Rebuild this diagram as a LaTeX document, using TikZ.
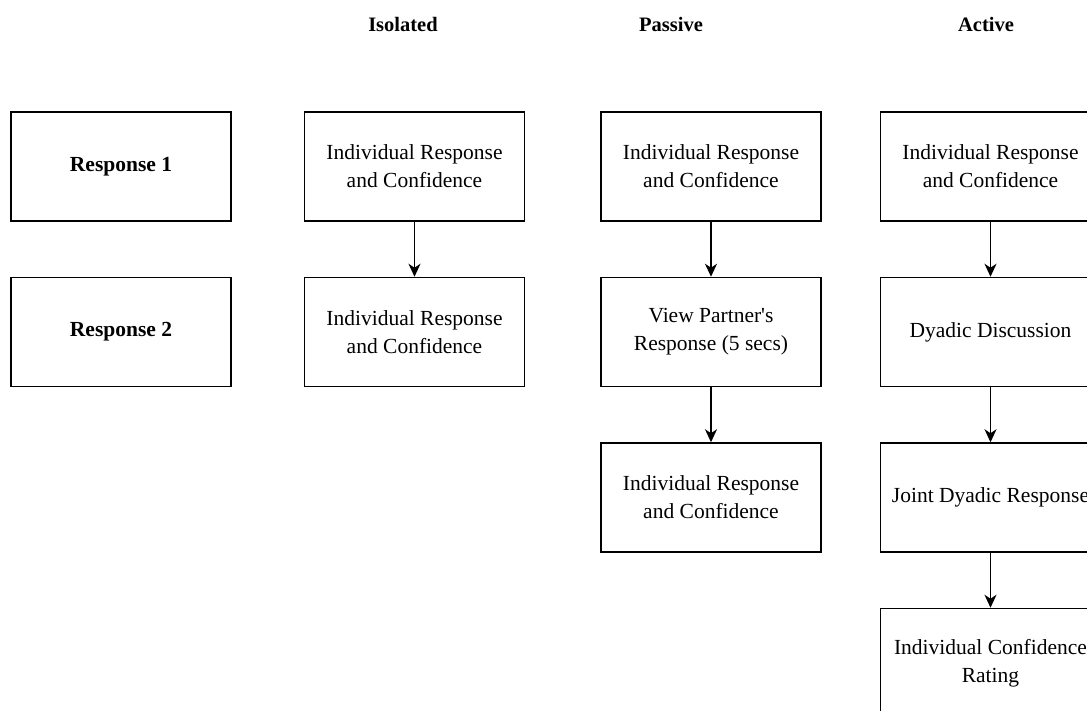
\documentclass[tikz,border=0pt]{standalone}
\usepackage{fontspec}
\setmainfont{Liberation Serif}[Ligatures=TeXOff]
\usetikzlibrary{arrows.meta,positioning}

\begin{document}
\begin{tikzpicture}[
  x=1pt, y=1pt,
  node distance=55pt and 72pt,
  box/.style={
    draw,
    line width=1.5pt,
    align=center,
    minimum width=220pt,
    minimum height=109pt,
    inner sep=0pt,
    font=\fontsize{21.5}{28}\selectfont
  },
  rowbox/.style={
    box,
    font=\fontsize{21.5}{28}\selectfont\bfseries
  },
  head/.style={
    font=\fontsize{20.5}{24}\selectfont\bfseries
  },
  arr/.style={
    -{Stealth[length=13pt,width=12pt,inset=4pt]},
    line width=1.5pt
  }
]

\clip (0,0) rectangle (1087,-711);

% Row labels
\node[rowbox] (resp1) at (121,-166.5) {Response 1};
\node[rowbox, below=of resp1] (resp2) {Response 2};

% Isolated condition
\node[box, right=72pt of resp1] (iso1)
  {Individual Response\\and Confidence};
\node[box, below=of iso1] (iso2)
  {Individual Response\\and Confidence};

% Passive condition
\node[box, right=75pt of iso1] (pas1)
  {Individual Response\\and Confidence};
\node[box, below=of pas1] (pas2)
  {View Partner's\\Response (5 secs)};
\node[box, below=of pas2] (pas3)
  {Individual Response\\and Confidence};

% Active condition
\node[box, right=58pt of pas1] (act1)
  {Individual Response\\and Confidence};
\node[box, below=of act1] (act2) {Dyadic Discussion};
\node[box, below=of act2] (act3) {Joint Dyadic Response};
\node[box, below=of act3] (act4)
  {Individual Confidence\\Rating};

% Column headings
\node[head] (hiso) at (403,-24) {Isolated};
\node[head] (hpas) at (671,-24) {Passive};
\node[head] (hact) at (986,-24) {Active};

% Arrows
\draw[arr] (iso1) -- (iso2);

\draw[arr] (pas1) -- (pas2);
\draw[arr] (pas2) -- (pas3);

\draw[arr] (act1) -- (act2);
\draw[arr] (act2) -- (act3);
\draw[arr] (act3) -- (act4);

\end{tikzpicture}
\end{document}
